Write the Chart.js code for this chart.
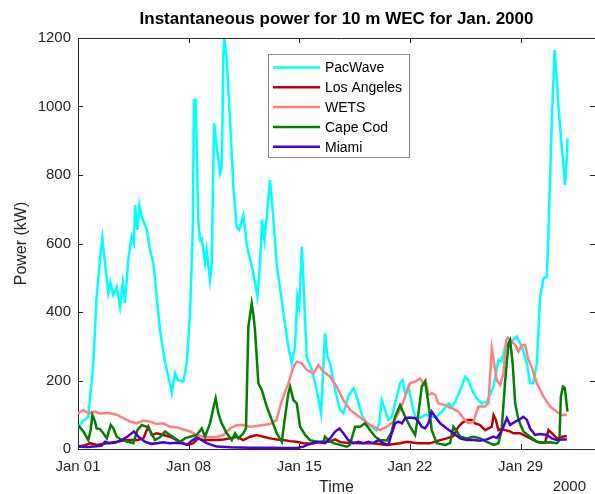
<!DOCTYPE html>
<html>
<head>
<meta charset="utf-8">
<title>Instantaneous power for 10 m WEC</title>
<script src="https://cdn.jsdelivr.net/npm/chart.js@4.4.1/dist/chart.umd.min.js"></script>
<style>
  html, body { margin: 0; padding: 0; background: #fff; }
  #wec-chart { display: block; }
</style>
</head>
<body>
<canvas id="wec-chart" width="595" height="494"></canvas>
<script>
// [day since Jan 01 00:00, power kW]
const pacwave = [[0,65],[0.3,80],[0.65,94],[0.97,251],[1.18,445],[1.39,552],[1.54,615],[1.71,543],[1.92,455],[2.05,485],[2.23,450],[2.45,473],[2.66,415],[2.83,485],[2.97,426],[3.18,552],[3.4,620],[3.54,600],[3.61,712],[3.76,640],[3.88,712],[4.03,678],[4.35,640],[4.56,581],[4.77,542],[4.98,445],[5.19,347],[5.51,251],[5.72,211],[5.93,163],[6.14,222],[6.35,201],[6.67,197],[6.88,251],[7.09,397],[7.26,640],[7.34,1019],[7.45,1019],[7.61,669],[7.72,610],[7.83,615],[8.04,543],[8.14,581],[8.35,493],[8.46,540],[8.61,951],[8.78,883],[8.99,805],[9.1,824],[9.2,1155],[9.26,1200],[9.41,1136],[9.62,960],[9.83,766],[10.04,649],[10.2,640],[10.46,683],[10.7,590],[11.1,513],[11.35,445],[11.52,542],[11.65,670],[11.8,610],[12.15,785],[12.3,707],[12.57,542],[13.0,396],[13.31,299],[13.52,250],[13.73,299],[13.88,445],[14.0,415],[14.16,590],[14.26,493],[14.47,269],[14.79,231],[15.11,172],[15.38,104],[15.53,250],[15.63,338],[15.78,269],[15.95,250],[16.27,172],[16.58,114],[16.79,104],[17.1,153],[17.42,177],[17.64,153],[17.96,99],[18.27,75],[18.59,65],[18.9,55],[19.05,75],[19.22,143],[19.43,114],[19.64,85],[19.85,94],[20.17,153],[20.38,192],[20.53,201],[20.7,163],[20.9,182],[21.12,133],[21.33,94],[21.6,90],[22.0,100],[22.38,94],[22.7,94],[23.12,114],[23.44,133],[23.7,125],[23.97,148],[24.28,182],[24.49,211],[24.7,201],[24.92,172],[25.23,148],[25.55,133],[25.87,138],[26.29,182],[26.6,260],[26.8,255],[27.03,299],[27.34,309],[27.76,328],[28.08,299],[28.4,250],[28.6,192],[28.8,192],[29.03,250],[29.24,445],[29.45,498],[29.66,503],[29.77,640],[29.98,960],[30.15,1165],[30.3,1077],[30.4,1000],[30.5,941],[30.68,844],[30.82,771],[30.92,844],[30.97,907]];

const los_angeles = [[0,7],[0.4,10],[0.76,17],[1.18,12],[1.82,17],[2.45,21],[3.08,26],[3.72,26],[4.13,31],[4.35,55],[4.45,65],[4.66,41],[4.98,46],[5.4,41],[5.82,36],[6.25,26],[6.67,17],[6.98,12],[7.3,17],[7.61,31],[7.93,26],[8.35,26],[8.78,26],[9.2,28],[9.62,31],[10.04,36],[10.46,26],[10.89,36],[11.31,41],[11.73,36],[12.15,31],[12.57,28],[12.99,26],[13.42,23],[13.84,21],[14.26,17],[14.68,15],[15.11,19],[15.53,21],[15.9,21],[16.27,28],[16.6,20],[17.0,18],[17.85,17],[18.69,17],[19.54,12],[20.38,17],[20.8,21],[21.5,17],[22.28,17],[22.91,26],[23.33,31],[23.75,38],[24.07,65],[24.28,75],[24.6,85],[24.92,85],[25.13,75],[25.44,70],[25.76,55],[25.97,60],[26.18,65],[26.29,99],[26.44,85],[26.6,55],[26.8,58],[27.03,55],[27.3,52],[27.55,46],[27.97,46],[28.4,36],[28.82,26],[29.24,18],[29.55,18],[29.77,55],[29.98,46],[30.3,31],[30.61,36],[30.93,38]];

const wets = [[0,104],[0.34,114],[0.65,104],[1.08,109],[1.39,104],[1.92,105],[2.45,100],[2.87,90],[3.29,80],[3.72,75],[4.13,83],[4.56,80],[4.98,73],[5.4,75],[5.82,65],[6.25,63],[6.67,57],[7.09,51],[7.51,41],[7.93,36],[8.35,35],[8.77,35],[9.2,41],[9.62,60],[10.04,70],[10.46,70],[10.89,65],[11.31,67],[11.73,70],[12.15,73],[12.57,85],[12.78,124],[12.99,153],[13.31,192],[13.63,240],[13.84,255],[14.16,250],[14.47,231],[14.9,221],[15.21,245],[15.53,226],[15.95,211],[16.37,182],[16.79,143],[17.22,114],[17.64,99],[18.06,85],[18.48,70],[18.9,60],[19.11,55],[19.54,65],[19.96,80],[20.38,114],[20.7,153],[21.01,192],[21.33,197],[21.65,206],[21.85,190],[22.0,200],[22.17,158],[22.4,163],[22.6,158],[22.8,133],[23.23,128],[23.65,119],[24.07,109],[24.39,90],[24.7,75],[25.02,80],[25.34,124],[25.76,124],[25.97,135],[26.18,294],[26.33,250],[26.5,201],[26.71,187],[26.92,221],[27.09,318],[27.2,325],[27.45,313],[27.66,304],[27.87,284],[28.08,304],[28.29,304],[28.5,260],[28.7,240],[29.03,192],[29.45,153],[29.87,124],[30.3,109],[30.6,99],[30.93,99]];

const cape_cod = [[0,70],[0.34,51],[0.65,26],[0.8,55],[0.91,99],[1.08,80],[1.18,60],[1.39,58],[1.6,46],[1.82,31],[2.07,70],[2.24,60],[2.45,36],[2.76,26],[3.18,21],[3.5,17],[3.76,55],[4.03,70],[4.35,65],[4.55,55],[4.87,26],[5.2,35],[5.51,51],[5.82,41],[6.14,31],[6.46,21],[6.77,31],[7.09,36],[7.51,41],[7.83,60],[8.04,36],[8.35,75],[8.56,119],[8.71,148],[8.88,104],[9.09,75],[9.41,46],[9.73,26],[9.94,46],[10.15,31],[10.46,46],[10.63,60],[10.78,357],[10.99,425],[11.1,390],[11.2,347],[11.41,192],[11.63,172],[11.94,124],[12.26,85],[12.57,46],[12.89,21],[13.1,94],[13.31,163],[13.42,182],[13.63,143],[13.84,133],[14.05,65],[14.37,41],[14.68,26],[15.11,21],[15.53,21],[15.63,36],[15.84,26],[16.16,17],[16.58,12],[17.0,7],[17.2,12],[17.53,65],[17.85,65],[18.16,75],[18.48,55],[18.8,36],[19.11,26],[19.54,25],[19.85,51],[20.06,94],[20.38,128],[20.7,94],[21.01,65],[21.33,41],[21.54,104],[21.75,182],[21.96,197],[22.17,133],[22.38,55],[22.7,17],[23.23,12],[23.54,17],[23.75,65],[23.97,51],[24.18,36],[24.6,31],[25.02,36],[25.44,31],[25.87,21],[26.29,12],[26.6,17],[26.8,55],[27.03,201],[27.24,309],[27.34,318],[27.5,250],[27.66,133],[27.87,85],[28.18,51],[28.6,36],[29.03,21],[29.45,18],[29.87,20],[30.3,17],[30.46,26],[30.55,153],[30.68,182],[30.8,178],[30.97,109]];

const miami = [[0,7],[0.6,6],[1.18,8],[1.5,10],[1.71,21],[1.95,17],[2.34,18],[2.76,26],[3.18,38],[3.54,51],[3.82,36],[4.24,21],[4.66,15],[4.98,17],[5.4,20],[5.82,17],[6.25,18],[6.56,17],[6.88,12],[7.2,24],[7.51,34],[7.83,26],[8.14,17],[8.77,7],[9.62,5],[10.9,4],[12.15,4],[13.0,3],[13.84,3],[14.26,7],[14.68,15],[15.11,21],[15.63,17],[15.95,31],[16.27,51],[16.54,60],[16.79,46],[17.1,26],[17.42,17],[17.74,21],[18.06,17],[18.37,21],[18.69,17],[19.0,26],[19.32,17],[19.64,12],[19.85,46],[20.06,75],[20.27,80],[20.5,75],[20.7,90],[21.01,92],[21.33,90],[21.54,80],[21.75,65],[21.96,60],[22.17,75],[22.38,109],[22.6,94],[22.91,75],[23.33,60],[23.75,46],[24.18,31],[24.6,26],[25.02,26],[25.44,24],[25.87,28],[26.29,36],[26.5,32],[26.71,46],[26.92,65],[27.13,90],[27.34,70],[27.66,80],[27.9,85],[28.18,94],[28.4,85],[28.6,60],[28.92,41],[29.24,44],[29.66,41],[29.98,31],[30.3,26],[30.6,28],[30.93,28]];

const site_names = ['PacWave', 'Los Angeles', 'WETS', 'Cape Cod', 'Miami'];
const site_colors = ['#00ffff', '#c00000', '#ff8080', '#008000', '#4b00d2'];
const site_data = [pacwave, los_angeles, wets, cape_cod, miami];

const day_ticks = [0, 7, 14, 21, 28];
const day_labels = ['Jan 01', 'Jan 08', 'Jan 15', 'Jan 22', 'Jan 29'];
const power_ticks = [0, 200, 400, 600, 800, 1000, 1200];

const font_family = '"Liberation Sans", Arial, Helvetica, sans-serif';
const ink = '#262626';

// box, inward ticks, legend and the year under the time axis
const axes_frame = {
    id: 'axes_frame',
    afterDraw(chart) {
        const {ctx, chartArea: a, scales: {x, y}} = chart;
        ctx.save();
        ctx.strokeStyle = ink;
        ctx.lineWidth = 1;
        ctx.beginPath();
        ctx.moveTo(a.left, a.top + 0.5);
        ctx.lineTo(a.right, a.top + 0.5);
        day_ticks.forEach(d => {
            const px = Math.round(x.getPixelForValue(d)) + 0.5;
            ctx.moveTo(px, a.bottom);
            ctx.lineTo(px, a.bottom - 5);
            ctx.moveTo(px, a.top);
            ctx.lineTo(px, a.top + 5);
        });
        power_ticks.forEach(v => {
            const py = Math.round(y.getPixelForValue(v)) + 0.5;
            ctx.moveTo(a.left, py);
            ctx.lineTo(a.left + 5, py);
            ctx.moveTo(a.right, py);
            ctx.lineTo(a.right - 5, py);
        });
        ctx.stroke();

        // legend
        const lx = 268.5, ly = 54.5, lw = 141, lh = 103;
        ctx.fillStyle = '#fff';
        ctx.fillRect(lx, ly, lw, lh);
        ctx.strokeStyle = '#8a8a8a';
        ctx.strokeRect(lx, ly, lw, lh);
        ctx.font = '14px ' + font_family;
        ctx.textBaseline = 'middle';
        ctx.textAlign = 'left';
        site_names.forEach((name, i) => {
            const ry = 67.5 + i * 19.8;
            ctx.strokeStyle = site_colors[i];
            ctx.lineWidth = 2.5;
            ctx.beginPath();
            ctx.moveTo(273, ry);
            ctx.lineTo(320, ry);
            ctx.stroke();
            ctx.fillStyle = '#000';
            ctx.fillText(name, 325, ry + 1);
        });

        ctx.font = '15px ' + font_family;
        ctx.fillStyle = ink;
        ctx.textAlign = 'right';
        ctx.fillText('2000', 586, 487);
        ctx.restore();
    }
};

let ctx = document.getElementById('wec-chart');

let datasets = site_names.map((name, i) => ({
    label: name,
    data: site_data[i].map(p => ({x: p[0], y: p[1]})),
    borderColor: site_colors[i],
    borderWidth: 2.5,
    pointRadius: 0,
    tension: 0,
    fill: false,
    order: site_names.length - 1 - i
}));

let options = {
    responsive: false,
    animation: false,
    events: [],
    layout: {padding: 0},
    plugins: {
        legend: {display: false},
        tooltip: {enabled: false},
        title: {
            display: true,
            text: 'Instantaneous power for 10 m WEC for Jan. 2000',
            fullSize: false,
            color: '#000',
            font: {family: font_family, size: 17, weight: 'bold', lineHeight: 1.2},
            padding: {top: 9.5, bottom: 8.1}
        }
    },
    scales: {
        x: {
            type: 'linear',
            min: 0,
            max: 32.71,
            afterBuildTicks: s => { s.ticks = day_ticks.map(v => ({value: v})); },
            afterFit: s => { s.height = 45; },
            grid: {display: false, drawTicks: false},
            border: {color: ink, width: 1},
            ticks: {
                color: ink,
                padding: 9,
                maxRotation: 0,
                font: {family: font_family, size: 15},
                callback: v => day_labels[day_ticks.indexOf(v)]
            },
            title: {
                display: true,
                text: 'Time',
                color: ink,
                font: {family: font_family, size: 16, lineHeight: 0.8},
                padding: {top: 0, bottom: 0}
            }
        },
        y: {
            min: 0,
            max: 1200,
            afterBuildTicks: s => { s.ticks = power_ticks.map(v => ({value: v})); },
            afterFit: s => { s.width = 78; },
            grid: {display: false, drawTicks: false},
            border: {color: ink, width: 1},
            ticks: {
                color: ink,
                padding: 7,
                font: {family: font_family, size: 15},
                callback: v => String(v)
            },
            title: {
                display: true,
                text: 'Power (kW)',
                color: ink,
                font: {family: font_family, size: 16, lineHeight: 1.2},
                padding: {top: 12.4, bottom: 0}
            }
        }
    }
};

let wec_chart = new Chart(ctx, {
    type: 'line',
    data: {datasets: datasets},
    options: options,
    plugins: [axes_frame]
});
</script>
</body>
</html>
